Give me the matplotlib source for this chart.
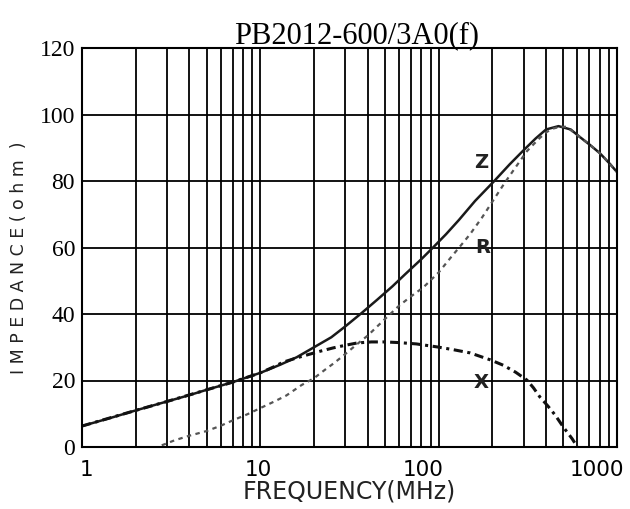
import matplotlib
matplotlib.use("Agg")
import matplotlib.pyplot as plt
import matplotlib.ticker as mticks
import matplotlib.transforms as mtrans

# values (frequency in MHz, impedance in ohm)
z_freq = [1, 1.5, 2, 3, 4, 5, 7, 10, 13, 16, 20, 25, 30, 37, 45, 55, 65, 80, 93, 110, 130, 160,
          205, 250, 300, 350, 400, 470, 550, 620, 700, 800, 900, 1000]
z_val = [6.3, 9, 11, 13.7, 15.6, 17.2, 19.5, 22.3, 24.8, 27, 30, 33, 36.3, 40.3, 44.2, 48.3, 52, 56.5, 60,
         64, 68.3, 74, 80, 85, 89.3, 92.8, 95.5, 96.5, 95.5, 93.2, 91, 88.4, 85.5, 82.7]

r_freq = [2.8, 3.3, 4, 5, 6, 7, 8.5, 10, 12, 14, 17, 20, 23, 26, 30, 35, 40, 50, 60, 70, 82, 100, 117,
          135, 150, 175, 207, 235, 261, 290, 313, 340, 370, 405, 440, 480, 520, 620, 700, 800, 900, 1000]
r_val = [0.5, 2, 3.4, 4.8, 6.4, 8, 9.9, 11.7, 13.7, 15.5, 18.6, 20.7, 23.2, 25.3, 28, 31, 33.5, 38.5, 42.5,
         45.3, 48, 52.5, 57, 61, 64, 69, 75, 79.5, 83, 86.5, 89, 91, 93, 94.8, 95.8, 96.3, 96.3, 93.2, 91,
         88.4, 85.5, 82.7]

x_freq = [1, 2, 3, 5, 7, 10, 12, 13.4, 16, 18.3, 22, 25.6, 30, 35, 42, 50, 60, 75, 98, 120, 150, 195,
          230, 270, 313, 340, 370, 410, 450, 500, 560, 600]
x_val = [6.3, 11, 13.7, 17.2, 19.5, 22.3, 24.2, 25.5, 26.8, 27.7, 28.9, 29.8, 30.6, 31.3, 31.6, 31.6, 31.4,
         31, 30.1, 29.3, 28.3, 26.2, 24.6, 22.5, 20.1, 17.8, 15, 12.3, 9.6, 6, 2.5, 0]

x_ticks = [1, 10, 100, 1000]
x_ticklabels = ["1", "10", "100", "1000"]
y_ticks = [0, 20, 40, 60, 80, 100, 120]

title = "PB2012-600/3A0(f)"

fig = plt.figure(figsize=(6.3, 5.09), dpi=100)
ax = fig.add_axes([82 / 630, 62 / 509, 535 / 630, 399 / 509])

ax.set_xscale("log")
ax.set_xlim(1, 1000)
ax.set_ylim(0, 120)

ax.xaxis.set_minor_locator(mticks.LogLocator(base=10, subs=range(2, 10)))
ax.xaxis.set_minor_formatter(mticks.NullFormatter())
ax.set_xticks(x_ticks)
ax.set_xticklabels(x_ticklabels, fontsize=15.5, family="DejaVu Sans")
ax.set_yticks(y_ticks)
ax.set_yticklabels([str(v) for v in y_ticks], fontsize=17, family="Liberation Serif")

ax.tick_params(which="both", length=0)
ax.tick_params(axis="x", pad=9)
ax.tick_params(axis="y", pad=5)

# labels sit a bit off-centre in the scan
shifts = [5, -2, -16, -20]
for lab, dx in zip(ax.get_xticklabels(), shifts):
    lab.set_transform(lab.get_transform() + mtrans.ScaledTranslation(dx / 100, 0, fig.dpi_scale_trans))

ax.grid(which="both", axis="x", color="black", lw=1.3)
ax.grid(which="major", axis="y", color="black", lw=1.3)
for s in ax.spines.values():
    s.set_linewidth(1.5)

ax.plot(z_freq, z_val, color="#1a1a1a", lw=1.8)
ax.plot(r_freq, r_val, color="#555555", lw=1.6, dashes=(2, 2))
ax.plot(x_freq, x_val, color="#111111", lw=2.2, dashes=(3, 1.5, 1, 1.5))

for name, fx, yv in [("Z", 173, 85.5), ("R", 176, 60), ("X", 173, 19.5)]:
    ax.text(fx, yv, name, fontsize=14, fontweight="bold", family="DejaVu Sans",
            ha="center", va="center", color="#222222")

ax.set_xlabel("FREQUENCY(MHz)", fontsize=17, family="DejaVu Sans", labelpad=0, color="#222222")
fig.text(19 / 630, (509 - 258) / 509, " ".join("IMPEDANCE(ohm") + "  )", rotation=90,
         ha="center", va="center", fontsize=12.5, family="DejaVu Sans", color="#222222")
fig.text(357 / 630, (509 - 43) / 509, title, ha="center", va="baseline",
         fontsize=22, family="Liberation Serif")

fig.savefig("out.png", dpi=100)
